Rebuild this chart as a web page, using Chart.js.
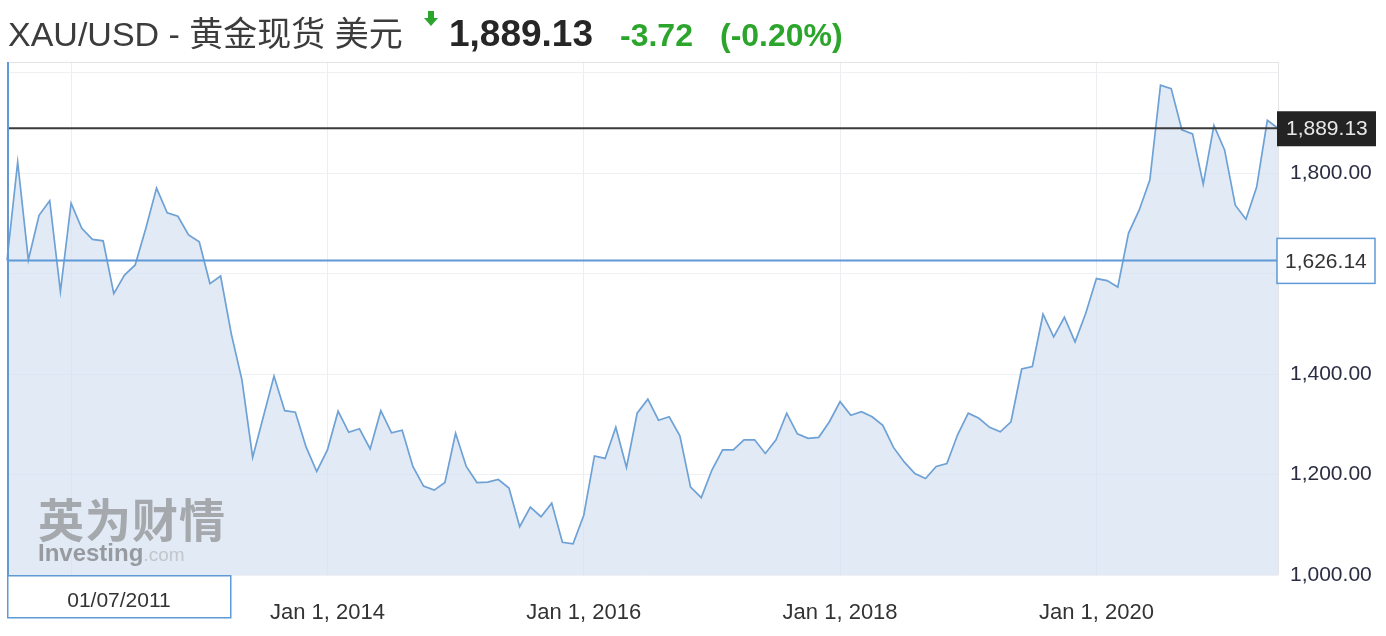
<!DOCTYPE html>
<html>
<head>
<meta charset="utf-8">
<script src="https://cdn.jsdelivr.net/npm/chart.js@4.4.0/dist/chart.umd.min.js"></script>
<style>
  html, body { margin: 0; padding: 0; background: #fff; }
  #wrap { position: relative; width: 1386px; height: 636px; overflow: hidden; }
  #goldChart { position: absolute; left: 0; top: 0; }
  .hdr { position: absolute; white-space: nowrap; font-family: "Liberation Sans", Arial, "Noto Sans CJK SC", sans-serif; line-height: 1; }
  #title { left: 8px; top: 17px; font-size: 34px; color: #3c3c3c; font-family: "Liberation Sans", "Noto Sans CJK SC", sans-serif; }
  #arrow { left: 424px; top: 11px; width: 14px; height: 15px; }
  #arrow .stem { position: absolute; left: 4px; top: 0; width: 6px; height: 7px; background: #2ba52b; }
  #arrow .head { position: absolute; left: 0; top: 7px; width: 0; height: 0; border-left: 7px solid transparent; border-right: 7px solid transparent; border-top: 8px solid #2ba52b; }
  #price { left: 449px; top: 15px; font-size: 37px; font-weight: bold; color: #262626; }
  #change { left: 620px; top: 19px; font-size: 32px; font-weight: bold; color: #2ba52b; }
  #pct { left: 720px; top: 19px; font-size: 32px; font-weight: bold; color: #2ba52b; }
  #wm { position: absolute; left: 38px; top: 494px; opacity: 0.62; pointer-events: none; }
  #wm .cn { font-family: "Noto Sans CJK SC", sans-serif; font-weight: bold; font-size: 46px; color: #808080; line-height: 1; letter-spacing: 1px; }
  #wm .en { font-family: "Liberation Sans", Arial, sans-serif; font-size: 24px; line-height: 1; margin-top: 1px; }
  #wm .en b { color: #6a6a6a; }
  #wm .en span { color: #b0b0b0; font-size: 19px; }
</style>
</head>
<body>
<div id="wrap">
  <canvas id="goldChart" width="1386" height="636"></canvas>
  <div class="hdr" id="title">XAU/USD - 黄金现货 美元</div>
  <div class="hdr" id="arrow"><div class="stem"></div><div class="head"></div></div>
  <div class="hdr" id="price">1,889.13</div>
  <div class="hdr" id="change">-3.72</div>
  <div class="hdr" id="pct">(-0.20%)</div>
  <div id="wm"><div class="cn">英为财情</div><div class="en"><b>Investing</b><span>.com</span></div></div>
</div>
<script>
// monthly closes, Jul 2011 .. Jun 2021
const GOLD_CLOSE = [
  1626.14, 1822, 1627, 1716, 1745, 1564,
  1740, 1690, 1668, 1665, 1560, 1597, 1617, 1690, 1770, 1721, 1714, 1677,
  1663, 1580, 1595, 1480, 1388, 1234, 1315, 1396, 1327, 1324, 1255, 1206,
  1249, 1326, 1284, 1291, 1251, 1327, 1283, 1288, 1216, 1177, 1169, 1184,
  1282, 1216, 1184, 1185, 1190, 1173, 1096, 1135, 1116, 1143, 1065, 1062,
  1119, 1237, 1232, 1294, 1214, 1322, 1350, 1308, 1315, 1277, 1175, 1154,
  1209, 1249, 1249, 1269, 1269, 1242, 1269, 1322, 1281, 1272, 1274, 1305,
  1345, 1318, 1325, 1315, 1298, 1254, 1225, 1202, 1192, 1216, 1222, 1279,
  1322, 1312, 1294, 1285, 1305, 1410, 1415, 1519, 1474, 1513, 1464, 1521,
  1590, 1586, 1573, 1680, 1726, 1786, 1975, 1968, 1886, 1878, 1778, 1895,
  1846, 1736, 1708, 1772, 1905, 1889.13,
];
const START_YEAR = 2011;
const START_MONTH = 7;

const CATEGORIES = GOLD_CLOSE.map((_, i) => {
  const m = START_MONTH - 1 + i;
  return `${START_YEAR + Math.floor(m / 12)}-${String(m % 12 + 1).padStart(2, '0')}`;
});

const X_TICK_LABELS = {
  '2014-01': 'Jan 1, 2014',
  '2016-01': 'Jan 1, 2016',
  '2018-01': 'Jan 1, 2018',
  '2020-01': 'Jan 1, 2020',
};
const X_GRID_MONTHS = ['2012-01', '2014-01', '2016-01', '2018-01', '2020-01'];

const Y_MIN = 1000;
const Y_MAX = 2021;
const Y_TICKS = [1000, 1200, 1400, 1600, 1800, 2000];
const Y_TICK_LABELS = [1000, 1200, 1400, 1800];

const LAST_PRICE = 1889.13;
const CROSS_VALUE = 1626.14;
const CROSS_INDEX = 0;
const CROSS_DATE = '01/07/2011';

const LINE_BLUE = '#6ea1d5';
const CROSS_BLUE = '#5f9ad6';
const FONT = '"Liberation Sans", Arial, sans-serif';

const fmt = v => v.toLocaleString('en-US', { minimumFractionDigits: 2, maximumFractionDigits: 2 });

const overlayPlugin = {
  id: 'overlay',
  beforeDatasetsDraw(chart) {
    const { ctx, chartArea: a } = chart;
    ctx.save();
    ctx.strokeStyle = '#e2e4e8';
    ctx.lineWidth = 1;
    ctx.beginPath();
    ctx.moveTo(a.left, a.top + 0.5);
    ctx.lineTo(a.right + 0.5, a.top + 0.5);
    ctx.lineTo(a.right + 0.5, a.bottom);
    ctx.stroke();
    ctx.restore();
  },
  afterDatasetsDraw(chart) {
    const { ctx, chartArea: a, scales } = chart;
    const yLast = scales.y.getPixelForValue(LAST_PRICE);
    const yCross = scales.y.getPixelForValue(CROSS_VALUE);
    const xCross = scales.x.getPixelForValue(CROSS_INDEX);
    ctx.save();
    ctx.lineWidth = 2;
    ctx.strokeStyle = '#3b3b3b';
    ctx.beginPath();
    ctx.moveTo(a.left, yLast);
    ctx.lineTo(a.right, yLast);
    ctx.stroke();

    ctx.strokeStyle = CROSS_BLUE;
    ctx.beginPath();
    ctx.moveTo(a.left, yCross);
    ctx.lineTo(a.right, yCross);
    ctx.moveTo(xCross + 1, a.top);
    ctx.lineTo(xCross + 1, a.bottom);
    ctx.stroke();
    ctx.restore();
  },
  afterDraw(chart) {
    const { ctx, chartArea: a, scales } = chart;
    const yLast = scales.y.getPixelForValue(LAST_PRICE);
    const yCross = scales.y.getPixelForValue(CROSS_VALUE);
    const xCross = scales.x.getPixelForValue(CROSS_INDEX);
    ctx.save();
    ctx.font = `21px ${FONT}`;
    ctx.textBaseline = 'middle';

    // last price tag
    ctx.fillStyle = '#232323';
    ctx.fillRect(a.right - 1, yLast - 17, 99, 35);
    ctx.fillStyle = '#e8e8e8';
    ctx.textAlign = 'left';
    ctx.fillText(fmt(LAST_PRICE), a.right + 8, yLast + 1);

    // crosshair value tag
    ctx.fillStyle = '#fff';
    ctx.fillRect(a.right - 1, yCross - 22, 98, 45);
    ctx.strokeStyle = CROSS_BLUE;
    ctx.lineWidth = 1.5;
    ctx.strokeRect(a.right - 1, yCross - 22, 98, 45);
    ctx.fillStyle = '#333';
    ctx.fillText(fmt(CROSS_VALUE), a.right + 7, yCross + 2);

    // crosshair date tag
    ctx.fillStyle = '#fff';
    ctx.fillRect(xCross, a.bottom, 224, 43);
    ctx.strokeRect(xCross + 0.75, a.bottom + 0.75, 223, 42);
    ctx.fillStyle = '#333';
    ctx.textAlign = 'center';
    ctx.fillText(CROSS_DATE, xCross + 112, a.bottom + 26);
    ctx.restore();
  },
};

new Chart(document.getElementById('goldChart'), {
  type: 'line',
  data: {
    labels: CATEGORIES,
    datasets: [{
      data: GOLD_CLOSE,
      borderColor: LINE_BLUE,
      backgroundColor: 'rgba(214,226,241,0.72)',
      borderWidth: 1.7,
      pointRadius: 0,
      tension: 0,
      fill: 'start',
    }],
  },
  options: {
    responsive: false,
    devicePixelRatio: 1,
    animation: false,
    layout: { padding: { top: 62, left: 7, right: 0, bottom: 0 } },
    plugins: { legend: { display: false }, tooltip: { enabled: false } },
    scales: {
      x: {
        type: 'category',
        offset: false,
        border: { display: false },
        grid: {
          drawTicks: false,
          color: c => (c.tick && X_GRID_MONTHS.includes(CATEGORIES[c.tick.value]) ? '#eceef2' : 'rgba(0,0,0,0)'),
        },
        ticks: {
          autoSkip: false,
          maxRotation: 0,
          padding: 25,
          color: '#333',
          font: { family: FONT, size: 22 },
          callback: (v, i) => X_TICK_LABELS[CATEGORIES[i]] || '',
        },
        afterFit: s => { s.height = 61; s.paddingLeft = 0; s.paddingRight = 0; },
      },
      y: {
        position: 'right',
        min: Y_MIN,
        max: Y_MAX,
        border: { display: false },
        grid: { drawTicks: false, color: '#eef0f3' },
        afterBuildTicks: s => { s.ticks = Y_TICKS.map(v => ({ value: v })); },
        ticks: {
          padding: 12,
          color: '#2b2d42',
          font: { family: FONT, size: 21 },
          callback: v => (Y_TICK_LABELS.includes(v) ? fmt(v) : ''),
        },
        afterFit: s => { s.width = 108; s.paddingTop = 0; s.paddingBottom = 0; },
      },
    },
  },
  plugins: [overlayPlugin],
});
</script>
</body>
</html>
